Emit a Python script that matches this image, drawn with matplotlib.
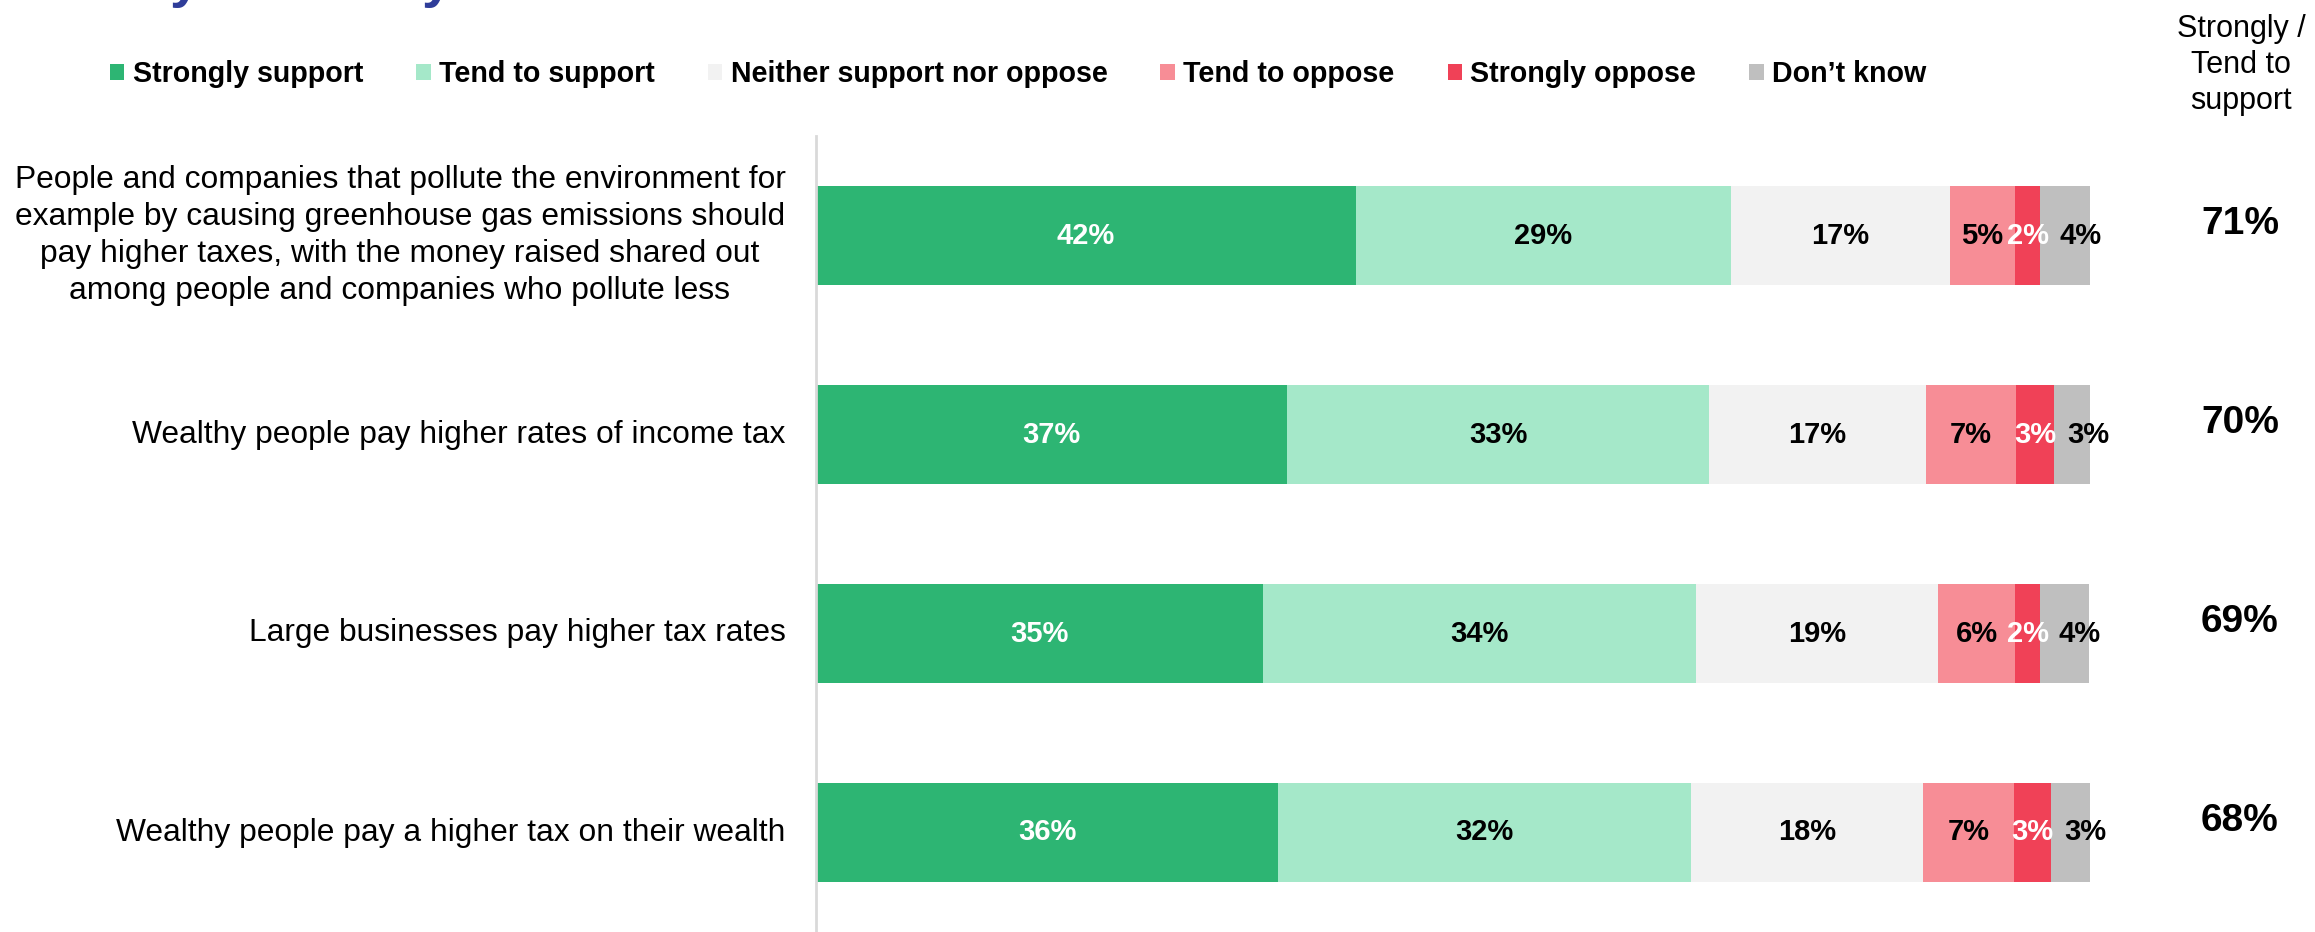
import matplotlib.pyplot as plt
from matplotlib.patches import Patch
import numpy as np

plt.rcParams['font.family'] = ['Liberation Sans', 'DejaVu Sans']

# 数据
categories = [
    "People and companies that pollute the environment for\nexample by causing greenhouse gas emissions should\npay higher taxes, with the money raised shared out\namong people and companies who pollute less",
    "Wealthy people pay higher rates of income tax",
    "Large businesses pay higher tax rates",
    "Wealthy people pay a higher tax on their wealth",
]
series_names = ["Strongly support", "Tend to support", "Neither support nor oppose",
                "Tend to oppose", "Strongly oppose", "Don\u2019t know"]
strongly_support = [42.4, 37.0, 35.1, 36.3]
tend_support = [29.4, 33.1, 34.0, 32.4]
neither = [17.2, 17.0, 19.0, 18.2]
tend_oppose = [5.1, 7.1, 6.0, 7.1]
strongly_oppose = [2.0, 3.0, 2.0, 2.9]
dont_know = [3.9, 2.9, 3.8, 3.1]
net_support = [71, 70, 69, 68]

colors = ['#2DB573', '#A5E8C9', '#F2F2F2', '#F78D96', '#F04157', '#BFBFBF']
text_colors = ['white', 'black', 'black', 'black', 'white', 'black']
label_shift = [0, 0, 0, 0, 0, 1.2]

fig = plt.figure(figsize=(23.15, 9.32), dpi=100)
ax = fig.add_axes([816 / 2315, 0.0, 1274 / 2315, 1 - 136 / 932])

series = [strongly_support, tend_support, neither, tend_oppose, strongly_oppose, dont_know]
y = np.arange(len(categories))
left = np.zeros(len(categories))
for vals, name, c, tc, sh in zip(series, series_names, colors, text_colors, label_shift):
    vals = np.array(vals)
    ax.barh(y, vals, left=left, height=0.5, color=c, label=name)
    for yi, l, v in zip(y, left, vals):
        ax.text(l + v / 2 + sh, yi, f'{v:.0f}%', ha='center', va='center',
                color=tc, fontsize=21, fontweight='bold')
    left += vals

ax.set_xlim(0, 100)
ax.set_ylim(3.5, -0.5)
ax.set_xticks([])
ax.set_yticks([])
for s in ['top', 'right', 'bottom']:
    ax.spines[s].set_visible(False)
ax.spines['left'].set_color('#D9D9D9')
ax.spines['left'].set_linewidth(2)

# 类别标签
trans = ax.get_yaxis_transform()
for yi, cat in zip(y, categories):
    ax.text(-0.024, yi, cat, transform=trans, ha='right', va='center',
            multialignment='center', fontsize=22.9, linespacing=1.3)

# 右侧合计
for yi, n in zip(y, net_support):
    ax.text(1.1177, yi - 0.06, f'{n}%', transform=trans, ha='center', va='center',
            fontsize=28, fontweight='bold')
fig.text(2241 / 2315, 1 - 65 / 932, "Strongly /\nTend to\nsupport", ha='center', va='center',
         fontsize=22, linespacing=1.28)

# 图例
handles = [Patch(facecolor=c, edgecolor='none') for c in colors]
fig.legend(handles, series_names, loc='center left', bbox_to_anchor=(110 / 2315, 1 - 74 / 932),
           ncol=6, frameon=False, prop={'size': 20.6, 'weight': 'bold'},
           handlelength=0.5, handleheight=0.5, handletextpad=0.3, columnspacing=1.85,
           borderpad=0, borderaxespad=0)

# 被裁掉的标题
for xt in [125, 296]:
    fig.text(xt / 2315 * 1.476, 1.004, 'y', color='#2F3D99', fontsize=40, fontweight='bold',
             ha='center', va='baseline')

plt.savefig('out.png', dpi=100)
